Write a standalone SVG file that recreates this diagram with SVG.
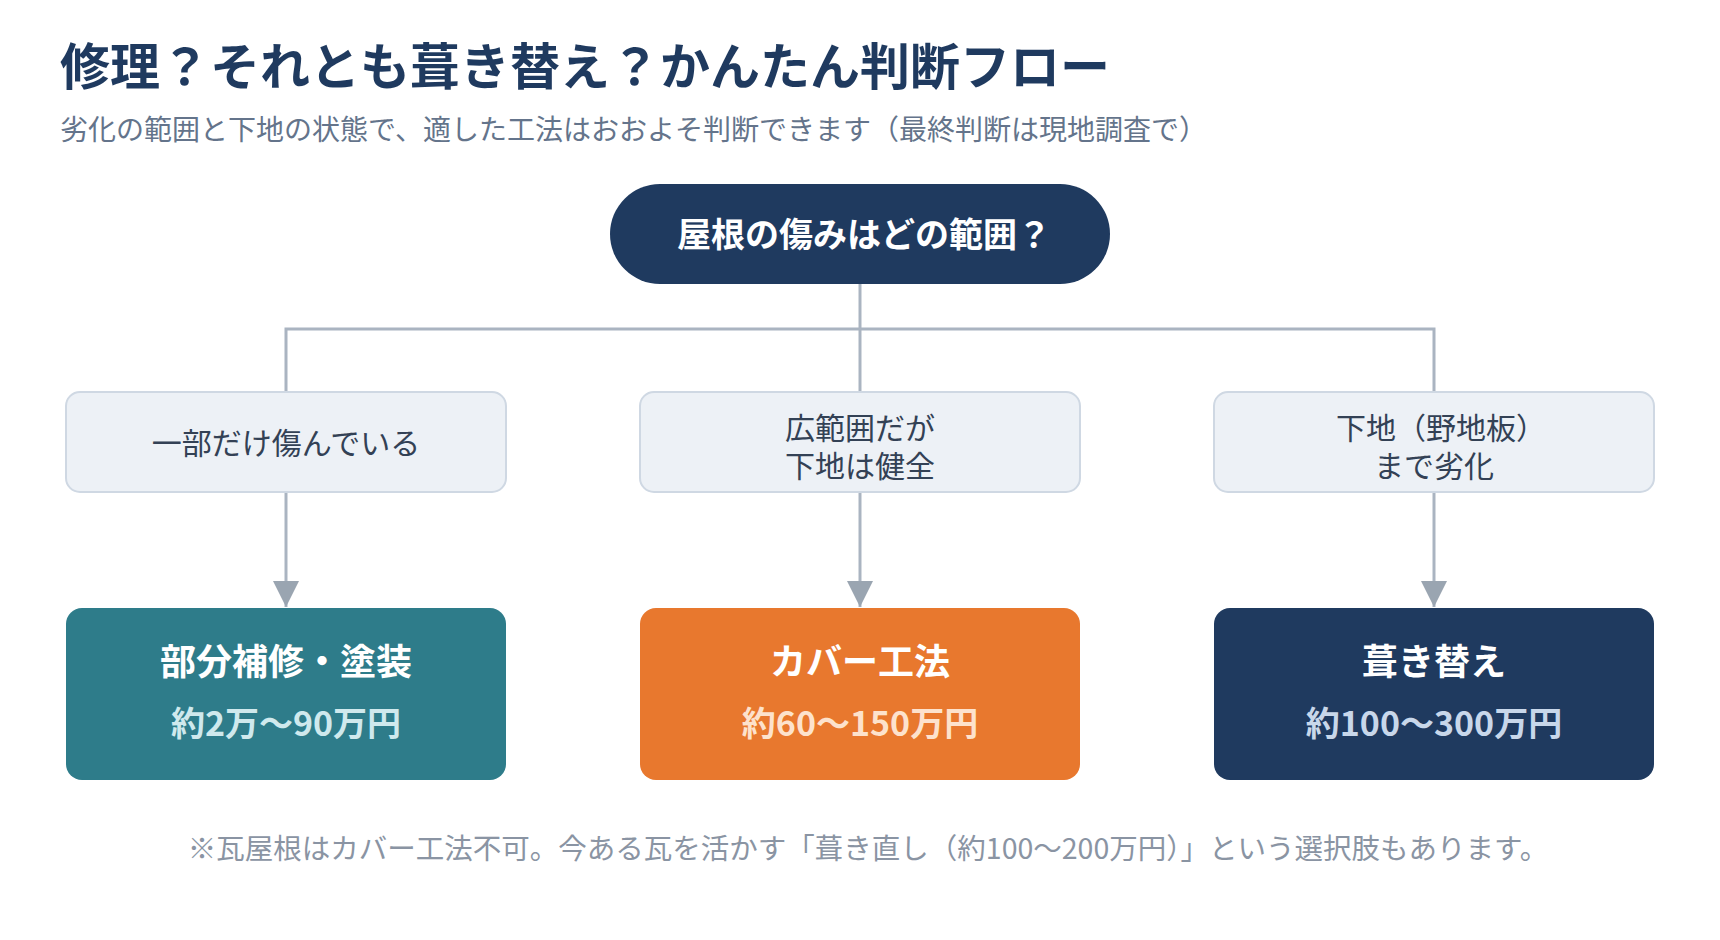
<svg xmlns="http://www.w3.org/2000/svg" width="1720" height="940" viewBox="0 0 1720 940">
  <defs>
    <style>
      text { font-family: "Noto Sans CJK JP", "Noto Sans", sans-serif; }
      .title { font-size: 50px; font-weight: 700; fill: #1f3a5f; }
      .sub { font-size: 28px; fill: #64748b; }
      .q { font-size: 34px; font-weight: 700; fill: #ffffff; }
      .opt { fill: #edf1f6; stroke: #cfd8e3; stroke-width: 2; }
      .optt { font-size: 30px; fill: #334155; }
      .rt { font-size: 36px; font-weight: 700; fill: #ffffff; }
      .rp { font-size: 34px; font-weight: 700; }
      .conn { fill: none; stroke: #aab4c1; stroke-width: 3; }
      .note { font-size: 28.5px; fill: #8a94a3; }
    </style>
    <marker id="arr" markerUnits="userSpaceOnUse" markerWidth="26" markerHeight="26" viewBox="0 0 26 26" refX="26" refY="13" orient="auto">
      <path d="M0,0 L26,13 L0,26 Z" fill="#9aa5b1"/>
    </marker>
  </defs>
  <rect width="1720" height="940" fill="#ffffff"/>

  <text class="title" x="60" y="85">修理？それとも葺き替え？かんたん判断フロー</text>
  <text class="sub" x="60" y="140">劣化の範囲と下地の状態で、適した工法はおおよそ判断できます（最終判断は現地調査で）</text>

  <g id="connectors">
    <path class="conn" d="M860,284 V392"/>
    <path class="conn" d="M286,392 V329 H1434 V392"/>
    <path class="conn" d="M286,492 V607" marker-end="url(#arr)"/>
    <path class="conn" d="M860,492 V607" marker-end="url(#arr)"/>
    <path class="conn" d="M1434,492 V607" marker-end="url(#arr)"/>
  </g>

  <g id="q-root">
    <rect x="610" y="184" width="500" height="100" rx="50" fill="#1f3a5f"/>
    <text class="q" x="864" y="247" text-anchor="middle">屋根の傷みはどの範囲？</text>
  </g>

  <g id="opt-partial">
    <rect class="opt" x="66" y="392" width="440" height="100" rx="14"/>
    <text class="optt" x="286" y="454" text-anchor="middle">一部だけ傷んでいる</text>
  </g>
  <g id="opt-wide">
    <rect class="opt" x="640" y="392" width="440" height="100" rx="14"/>
    <text class="optt" x="860" y="439" text-anchor="middle">広範囲だが</text>
    <text class="optt" x="860" y="477" text-anchor="middle">下地は健全</text>
  </g>
  <g id="opt-base">
    <rect class="opt" x="1214" y="392" width="440" height="100" rx="14"/>
    <text class="optt" x="1441" y="439" text-anchor="middle">下地（野地板）</text>
    <text class="optt" x="1434" y="477" text-anchor="middle">まで劣化</text>
  </g>

  <g id="res-repair">
    <rect x="66" y="608" width="440" height="172" rx="16" fill="#2e7c8a"/>
    <text class="rt" x="286" y="675" text-anchor="middle">部分補修・塗装</text>
    <text class="rp" x="286" y="736" text-anchor="middle" fill="#cfe9ed">約2万〜90万円</text>
  </g>
  <g id="res-cover">
    <rect x="640" y="608" width="440" height="172" rx="16" fill="#e8782e"/>
    <text class="rt" x="860" y="675" text-anchor="middle">カバー工法</text>
    <text class="rp" x="860" y="736" text-anchor="middle" fill="#fde2cc">約60〜150万円</text>
  </g>
  <g id="res-reroof">
    <rect x="1214" y="608" width="440" height="172" rx="16" fill="#1f3a5f"/>
    <text class="rt" x="1434" y="675" text-anchor="middle">葺き替え</text>
    <text class="rp" x="1434" y="736" text-anchor="middle" fill="#c8d7ea">約100〜300万円</text>
  </g>

  <text class="note" x="868" y="859" text-anchor="middle">※瓦屋根はカバー工法不可。今ある瓦を活かす「葺き直し（約100〜200万円）」という選択肢もあります。</text>
</svg>
